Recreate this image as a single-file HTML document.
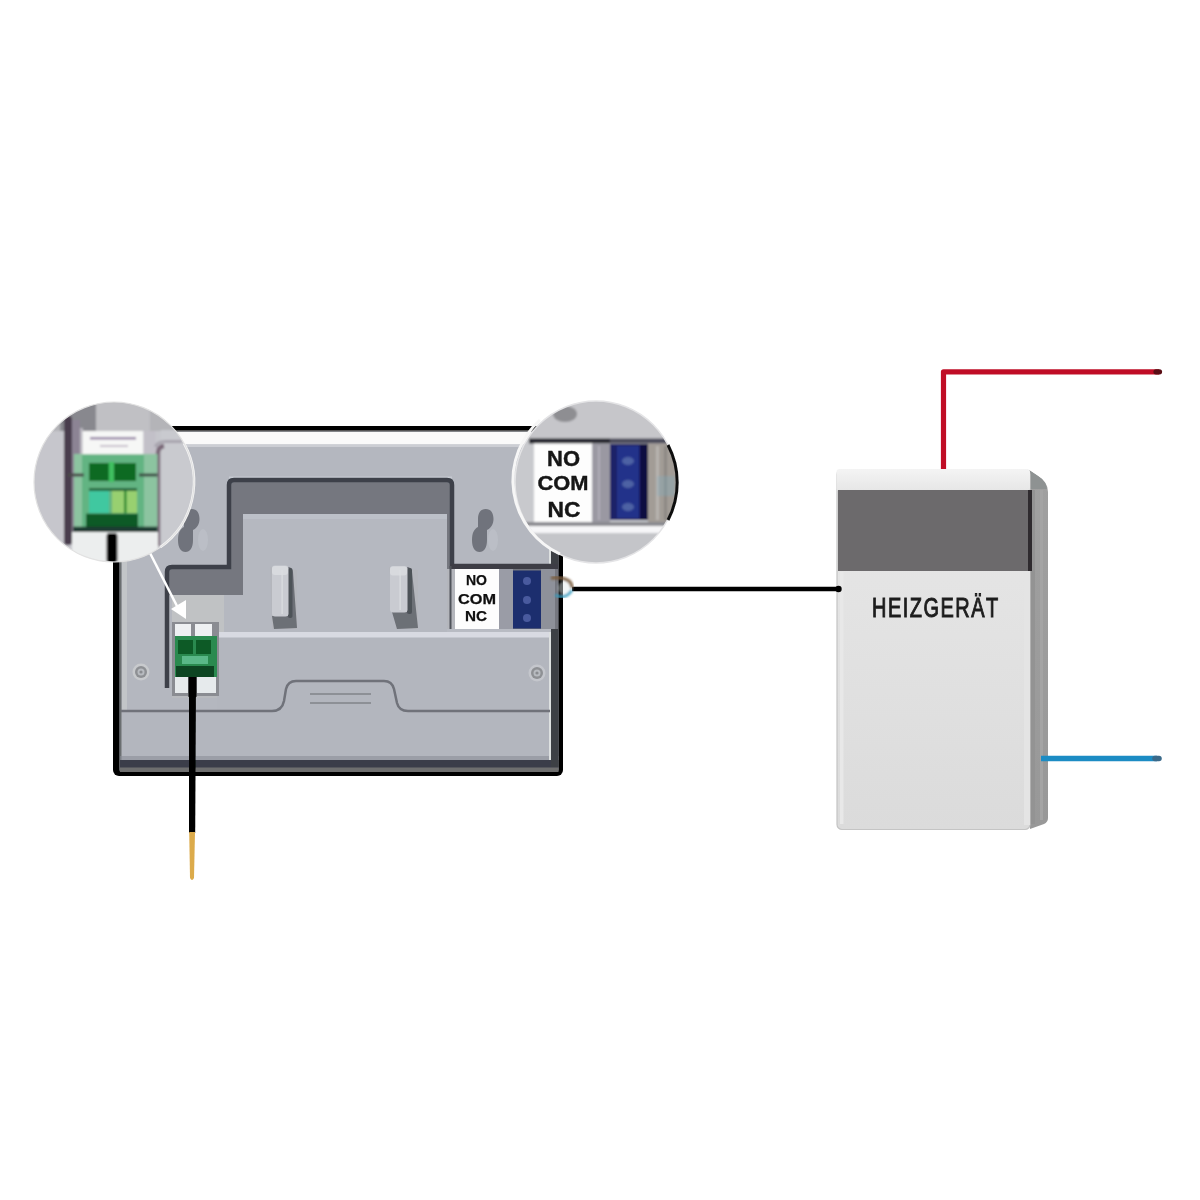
<!DOCTYPE html>
<html><head><meta charset="utf-8"><style>
html,body{margin:0;padding:0;background:#fff;width:1200px;height:1200px;overflow:hidden}
svg{display:block}
text{font-family:"Liberation Sans",sans-serif;font-weight:bold}
</style></head><body>
<svg width="1200" height="1200" viewBox="0 0 1200 1200">
<defs>
  <linearGradient id="hsideg" x1="0" y1="0" x2="0" y2="1">
    <stop offset="0" stop-color="#a0a0a0"/><stop offset="1" stop-color="#989898"/>
  </linearGradient>
  <linearGradient id="htopg" x1="0" y1="0" x2="0" y2="1">
    <stop offset="0" stop-color="#f4f4f4"/><stop offset="1" stop-color="#e6e6e6"/>
  </linearGradient>
  <linearGradient id="hfrontg" x1="0" y1="0" x2="0" y2="1">
    <stop offset="0" stop-color="#e8e8e8"/><stop offset="1" stop-color="#dbdbdb"/>
  </linearGradient>
  <filter id="soft" x="-5%" y="-5%" width="110%" height="110%"><feGaussianBlur stdDeviation="0.5"/></filter>
  <filter id="soft2" x="-5%" y="-5%" width="110%" height="110%"><feGaussianBlur stdDeviation="1"/></filter>
  <filter id="glob" x="0" y="0" width="1200" height="1200" filterUnits="userSpaceOnUse"><feGaussianBlur stdDeviation="0.6"/></filter>
  <clipPath id="cl"><circle cx="114" cy="482" r="80"/></clipPath>
  <clipPath id="cr"><circle cx="596" cy="482" r="81"/></clipPath>
</defs>

<g filter="url(#glob)">
<!-- ===== wires ===== -->
<line x1="572" y1="589" x2="838" y2="589" stroke="#000" stroke-width="4.6"/>
<path d="M943.5 471 L943.5 371.8 L1159 371.8" fill="none" stroke="#c00e28" stroke-width="5.2" stroke-linejoin="round"/>
<line x1="1156" y1="371.8" x2="1159.5" y2="371.8" stroke="#5a0a12" stroke-width="5.2" stroke-linecap="round"/>

<!-- ===== heater ===== -->
<path d="M1029 470 L1038 476 Q1048 482 1048 492 L1048 818 Q1048 822 1044 824 L1030 829 Z" fill="url(#hsideg)"/>
<path d="M1029 470 L1038 476 Q1046 481 1047 489 L1030 489 Z" fill="#8e9292"/>
<rect x="1030" y="490" width="5" height="334" fill="#939393"/>
<rect x="1040" y="490" width="3" height="330" fill="#a4a4a4"/>
<rect x="837" y="469.5" width="193" height="360" rx="5" fill="url(#hfrontg)" stroke="#c4c4c4" stroke-width="1.2"/>
<rect x="840" y="572" width="3.5" height="252" fill="#e8e8e8"/>
<rect x="1024" y="571" width="6" height="254" fill="#e4e4e4"/>
<rect x="836.5" y="469" width="193.5" height="22" rx="3" fill="url(#htopg)"/>
<rect x="838" y="490" width="192" height="81" fill="#6c6a6c"/>
<rect x="1028" y="490" width="4" height="81" fill="#2e2c2e"/>
<line x1="1041" y1="758.5" x2="1157" y2="758.5" stroke="#1f8cc4" stroke-width="5.5"/>
<line x1="1155" y1="758.5" x2="1159" y2="758.5" stroke="#3a6a8a" stroke-width="5.5" stroke-linecap="round"/>
<circle cx="838.5" cy="589" r="3.2" fill="#000"/>
<text transform="translate(872,616.5) scale(0.74,1)" x="0" y="0" font-size="27" fill="#1e1e1e" stroke="#1e1e1e" stroke-width="1" letter-spacing="2" style="font-weight:normal">HEIZGERÄT</text>

<!-- ===== thermostat body ===== -->
<g>
<rect x="113" y="426" width="450" height="350" rx="6" fill="#000"/>
<rect x="119.5" y="430" width="439" height="2" fill="#555"/>
<rect x="119.5" y="431.5" width="439" height="340.5" rx="2" fill="#b4b7bf"/>
<rect x="119.5" y="432" width="439" height="12.5" fill="#fafafa"/>
<rect x="119.5" y="444.5" width="439" height="2.5" fill="#ccced4"/>
<rect x="229" y="476.5" width="223" height="2" fill="#c6cad2"/>
<rect x="120" y="445" width="1.5" height="320" fill="#6a6e70"/>
<rect x="122" y="445" width="5" height="315" fill="#c2c5c8"/>
<!-- lower panel -->
<rect x="217" y="636" width="333" height="124" fill="#b3b6be"/>
<rect x="122" y="712" width="428" height="48" fill="#b3b6be"/>
<rect x="219" y="631.5" width="331" height="6" fill="#d8dae2"/>
<rect x="120" y="760" width="438.5" height="8" fill="#3a3e48"/>
<rect x="120" y="756" width="438.5" height="4" fill="#8a8e98" opacity="0.6"/>
<rect x="120" y="767.5" width="438.5" height="4.5" fill="#6e6e6e"/>
<rect x="549" y="445" width="2" height="315" fill="#dde0e0"/>
<rect x="551" y="445" width="7.5" height="322" fill="#3e4044"/>
<!-- bump -->
<path d="M121 711 L272 711 Q282 711 284 701 L286 689 Q288 681 296 681 L384 681 Q392 681 394 689 L397 703 Q399 711 408 711 L550 711" fill="none" stroke="#6f727a" stroke-width="2.5"/>
<line x1="310" y1="694" x2="371" y2="694" stroke="#8d9096" stroke-width="2"/>
<line x1="310" y1="703" x2="371" y2="703" stroke="#8d9096" stroke-width="2"/>

<!-- recessed shape -->
<path d="M167 595 L167 572 Q167 567 172 567 L229 567 L229 485 Q229 480 234 480 L447 480 Q452 480 452 485 L452 566 L558 566 L558 629 L243 629 L243 595 Z" fill="#74777f"/>
<rect x="447" y="629" width="104" height="3" fill="#b8bbc3"/>
<path d="M167 688 L167 572 Q167 567 172 567 L229 567 L229 485 Q229 480 234 480 L447 480 Q452 480 452 485 L452 566 L558 566" fill="none" stroke="#3c404a" stroke-width="4.5"/>
<!-- inner light panel -->
<rect x="243" y="514" width="204" height="118" fill="#b5b8c0"/>
<rect x="243" y="514" width="204" height="5" fill="#bcc0c8"/>
<rect x="172" y="595" width="71" height="37" fill="#b5b8c0"/>
<rect x="172" y="595" width="52" height="37" fill="#c0c2c4"/>
<rect x="172" y="632" width="45" height="66" fill="#b8babe"/>
<!-- posts -->
<path d="M270 567 L297 570 L297 629 L272 629 Z" fill="#b4b6bc"/>
<path d="M288 567 Q292 567 293 572 L297 628 L274 629 L272 616 L288 616 Z" fill="#6c6f76"/>
<rect x="288" y="568" width="4.5" height="50" rx="2" fill="#4e5259"/>
<rect x="272" y="565.5" width="16.5" height="51" rx="3" fill="#c9cbd1"/>
<rect x="272" y="566" width="16" height="9" rx="3" fill="#d8dade"/>
<rect x="281.5" y="570" width="1.2" height="44" fill="#dcdee2"/>
<path d="M389 567 L418 570 L418 629 L396 629 Z" fill="#b4b6bc"/>
<path d="M407 567 Q411 567 412 572 L418 628 L397 629 L392 612 L407 612 Z" fill="#6c6f76"/>
<rect x="407" y="568" width="5" height="46" rx="2" fill="#4e5259"/>
<rect x="390" y="566" width="17.5" height="46.5" rx="3" fill="#c9cbd1"/>
<rect x="390" y="566.5" width="17" height="9" rx="3" fill="#d8dade"/>
<rect x="399.5" y="570" width="1.2" height="40" fill="#dcdee2"/>
<!-- keyholes -->
<ellipse cx="203" cy="540" rx="5" ry="11" fill="#c4c7ce" opacity="0.45"/>
<path d="M191.7 509 C197.0 509 199.5 513 199.5 519 C199.5 524 197.0 528 193.0 530 L193.0 540 C193.0 548 190.0 552 185.5 552 C181.0 552 178.0 548 178.0 540 C178.0 533 180.0 529 184.0 527 L184.0 519 C184.0 513 186.5 509 191.7 509 Z" fill="#70737b"/>
<ellipse cx="493" cy="540" rx="5" ry="11" fill="#c4c7ce" opacity="0.45"/>
<path d="M485.7 509 C491.0 509 493.5 513 493.5 519 C493.5 524 491.0 528 487.0 530 L487.0 540 C487.0 548 484.0 552 479.5 552 C475.0 552 472.0 548 472.0 540 C472.0 533 474.0 529 478.0 527 L478.0 519 C478.0 513 480.5 509 485.7 509 Z" fill="#70737b"/>
<!-- screws -->
<circle cx="141" cy="672" r="8.5" fill="#c8cacd"/><circle cx="141" cy="672" r="6" fill="#8e9094"/><circle cx="141" cy="672" r="3.5" fill="#b8bbc0"/><circle cx="141" cy="672" r="1.6" fill="#8a8c90"/>
<circle cx="537" cy="673" r="8.5" fill="#c4c6cc"/><circle cx="537" cy="673" r="6" fill="#8e9094"/><circle cx="537" cy="673" r="3.5" fill="#b8bbc0"/><circle cx="537" cy="673" r="1.6" fill="#8a8c90"/>

<!-- small NO COM NC label -->
<rect x="450" y="564" width="108" height="5" fill="#3c3e44"/>
<rect x="447" y="569" width="8" height="60" fill="#b4b6bc"/>
<rect x="449.5" y="566" width="2" height="63" fill="#50535a"/>
<rect x="455" y="569" width="44" height="60" fill="#fdfdfd"/>
<rect x="499" y="569" width="14" height="60" fill="#9a9ca6"/>
<rect x="513" y="570.5" width="28" height="58" fill="#1d2f6e"/>
<circle cx="527" cy="581" r="4" fill="#4a5a9e"/>
<circle cx="527" cy="600" r="4" fill="#4a5a9e"/>
<circle cx="527" cy="618" r="4" fill="#4a5a9e"/>
<rect x="541" y="569" width="14" height="60" fill="#8e919a"/>
<text x="476.5" y="585" font-size="14" fill="#111" stroke="#111" stroke-width="0.25" text-anchor="middle" textLength="21" lengthAdjust="spacingAndGlyphs">NO</text>
<text x="477" y="603.5" font-size="14" fill="#111" stroke="#111" stroke-width="0.25" text-anchor="middle" textLength="38" lengthAdjust="spacingAndGlyphs">COM</text>
<text x="476" y="621" font-size="14" fill="#111" stroke="#111" stroke-width="0.25" text-anchor="middle" textLength="22" lengthAdjust="spacingAndGlyphs">NC</text>
<g filter="url(#soft2)"><circle cx="565" cy="588" r="7" fill="#dfe8ea" opacity="0.45"/>
<path d="M555 595 Q566 600 572 590" fill="none" stroke="#3a9ec0" stroke-width="3" opacity="0.85"/>
<path d="M551 578 Q563 577 569 581 Q572 584 572 588" fill="none" stroke="#7a5c3c" stroke-width="3.5" opacity="0.85"/></g>

<!-- small green connector -->
<rect x="172" y="622" width="47" height="74" fill="#8a8c92"/>
<rect x="175" y="624" width="16" height="12" fill="#eef0f2"/>
<rect x="195" y="624" width="17" height="12" fill="#eef0f2"/>
<rect x="175" y="636" width="42" height="41" fill="#2a8a50"/>
<rect x="178" y="640" width="15" height="14" fill="#0c5a28"/>
<rect x="196" y="640" width="15" height="14" fill="#0c5a28"/>
<rect x="182" y="656" width="26" height="8" fill="#5ab888"/>
<rect x="176" y="666" width="38" height="11" fill="#0e4424"/>
<rect x="175" y="677" width="13" height="16" fill="#e6eaec"/>
<rect x="197" y="677" width="19" height="16" fill="#e6eaec"/>
<rect x="188.5" y="677" width="8" height="20" fill="#000"/>
</g>
<!-- sensor wire -->
<path d="M189 680 L196 680 L195.2 833 L189 833 Z" fill="#000"/>
<path d="M189.2 832 L195 832 L194 878 Q192 882 190 878 Z" fill="#dcab4c"/>
<!-- white arrow -->
<path d="M150 553 L180 612" stroke="#fff" stroke-width="2.5" fill="none"/>
<path d="M171 609 L186 600 L186 619 Z" fill="#fff"/>

<!-- ===== left magnifier ===== -->
<g clip-path="url(#cl)" filter="url(#soft2)">
  <rect x="30" y="398" width="170" height="170" fill="#c6c6cc"/>
  <rect x="30" y="398" width="170" height="33" fill="#b4b4b8"/>
  <rect x="60" y="398" width="36" height="33" fill="#88888e"/>
  <rect x="96" y="398" width="54" height="33" fill="#c0c0c4"/>
  <rect x="64" y="416" width="8" height="129" rx="3" fill="#4a3e4e"/>
  <rect x="72" y="420" width="8" height="125" fill="#8c8494"/>
  <rect x="80" y="428" width="3" height="120" fill="#b8b6be"/>
  <rect x="82.5" y="431" width="61" height="23" fill="#f6f7f6"/>
  <rect x="90" y="437" width="46" height="2.5" fill="#9a88a8"/>
  <rect x="100" y="445" width="28" height="2" fill="#c8c0cc"/>
  <rect x="143.5" y="431" width="12" height="118" fill="#c2c0c8"/>
  <rect x="160.8" y="430" width="40" height="140" fill="#c9cacf"/>
  <path d="M158 546 L158 453 Q158 447 164 446" fill="none" stroke="#7a6878" stroke-width="4.5"/>
  <path d="M155.5 447 Q157 441.5 166 441.5 L182 441.5" fill="none" stroke="#a8a4ae" stroke-width="3"/>
  <rect x="74" y="454" width="83.5" height="79" fill="#8cc4a0"/>
  <rect x="82" y="455" width="62" height="72" fill="#62b482"/>
  <rect x="89" y="463" width="20" height="18" fill="#0a6a20"/>
  <rect x="114" y="463" width="22" height="18" fill="#0a6a20"/>
  <rect x="108.8" y="462" width="5.2" height="20" fill="#40c060"/>
  <rect x="67.6" y="473.5" width="16.2" height="3" fill="#4a4a4a"/>
  <rect x="139" y="473.5" width="18.5" height="3" fill="#3e4e44"/>
  <rect x="89" y="488" width="48" height="3" fill="#2a6a40"/>
  <rect x="89" y="491" width="20" height="22" fill="#40c8a0"/>
  <rect x="112" y="491" width="25" height="22" fill="#98d070"/>
  <rect x="124" y="491" width="2.5" height="22" fill="#2a8a30"/>
  <rect x="86" y="513.7" width="52" height="14" fill="#0a5a28"/>
  <rect x="73" y="526.7" width="84.5" height="5.5" fill="#1a3a30"/>
  <rect x="72" y="532" width="86" height="30" fill="#eceeee"/>
  <rect x="106.6" y="533" width="10.8" height="30" rx="3" fill="#000"/>
</g>
<path d="M184 443.3 A80 80 0 0 1 160.2 547.3" fill="none" stroke="#f6f6f6" stroke-width="2.5"/>
<circle cx="114" cy="482" r="80" fill="none" stroke="#e2e2e2" stroke-width="1.2"/>

<!-- ===== right magnifier ===== -->
<g clip-path="url(#cr)" filter="url(#soft2)">
  <rect x="510" y="398" width="175" height="170" fill="#c8c9cd"/>
  <rect x="510" y="398" width="175" height="40" fill="#c6c6ca"/>
  <ellipse cx="565" cy="414" rx="12" ry="8" fill="#8e8e92"/>
  <rect x="529" y="438.5" width="81" height="5" fill="#22242a"/>
  <rect x="610" y="438.5" width="75" height="5" fill="#4a4a5a"/>
  <rect x="534" y="443.5" width="58.5" height="79" fill="#fdfdfd"/>
  <rect x="592" y="443.5" width="18" height="79" fill="#9a98a2"/>
  <rect x="598" y="446" width="2" height="74" fill="#b0aeb8"/>
  <rect x="610" y="444" width="38" height="76" fill="#1a2468"/>
  <rect x="617" y="446" width="22" height="72" fill="#22308a"/>
  <rect x="640" y="444" width="8" height="76" fill="#0a1040"/>
  <ellipse cx="628" cy="461" rx="6" ry="4" fill="#4e62a4"/>
  <ellipse cx="628" cy="484" rx="6" ry="4" fill="#4e62a4"/>
  <ellipse cx="628" cy="507" rx="6" ry="4" fill="#4e62a4"/>
  <rect x="648" y="443.5" width="37" height="79" fill="#a29c96"/>
  <rect x="656" y="446" width="3" height="74" fill="#b8b4b0"/>
  <rect x="664" y="446" width="3" height="74" fill="#8c8884"/>
  <rect x="657" y="476" width="18" height="20" fill="#7ab0c8" opacity="0.3"/>
  <rect x="510" y="522" width="175" height="4" fill="#8a8a90"/>
  <rect x="510" y="526" width="175" height="7" fill="#f6f6f8"/>
  <rect x="510" y="533" width="175" height="40" fill="#c4c5c9"/>
</g>
<g clip-path="url(#cr)" stroke="#141414" stroke-width="0.4">
  <text x="563.5" y="466" font-size="22" fill="#141414" text-anchor="middle" textLength="33" lengthAdjust="spacingAndGlyphs">NO</text>
  <text x="563" y="490" font-size="21" fill="#141414" text-anchor="middle" textLength="51" lengthAdjust="spacingAndGlyphs">COM</text>
  <text x="564" y="516.5" font-size="22" fill="#141414" text-anchor="middle" textLength="33" lengthAdjust="spacingAndGlyphs">NC</text>
</g>
<circle cx="596" cy="482" r="81" fill="none" stroke="#e4e4e6" stroke-width="1.5"/>
<path d="M540 420 A81 81 0 0 0 560 554" fill="none" stroke="#f6f6f6" stroke-width="3"/>
<path d="M668 445 A81 81 0 0 1 668 520" fill="none" stroke="#111" stroke-width="3"/>
</g>
</svg>
</body></html>
